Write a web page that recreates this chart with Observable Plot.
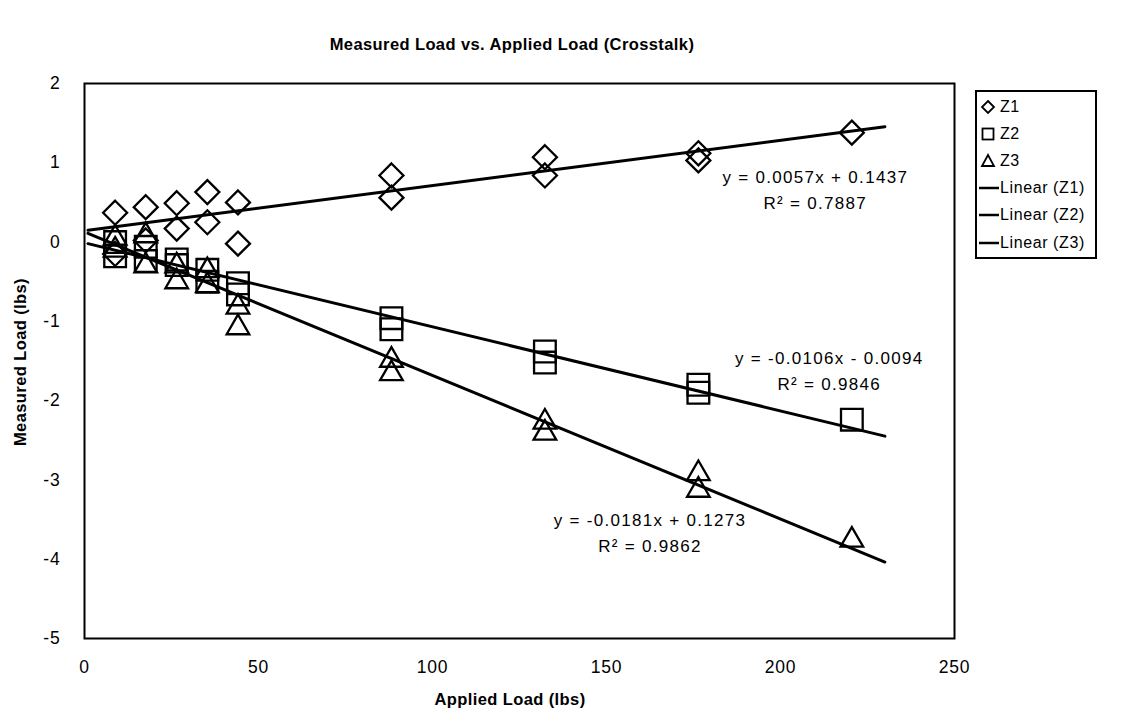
<!DOCTYPE html>
<html>
<head>
<meta charset="utf-8">
<script src="https://cdn.jsdelivr.net/npm/d3@7"></script>
<script src="https://cdn.jsdelivr.net/npm/@observablehq/plot@0.6"></script>
<style>
  html, body { margin: 0; padding: 0; background: #fff; }
  #wrap { position: relative; width: 1124px; height: 725px; font-family: "Liberation Sans", Arial, sans-serif; color: #000; }
  #title { position: absolute; left: 0; width: 1024px; top: 35px; text-align: center; font-weight: bold; font-size: 16.5px; letter-spacing: 0.4px; }
  #xtitle { position: absolute; left: 0; width: 1020px; top: 690px; text-align: center; font-weight: bold; font-size: 16.5px; letter-spacing: 0.4px; }
  #ytitle { position: absolute; left: 20px; top: 362px; transform: translate(-50%, -50%) rotate(-90deg); white-space: nowrap; font-weight: bold; font-size: 16.5px; letter-spacing: 0.4px; }
  #legend { position: absolute; left: 975px; top: 90px; width: 118px; border: 2px solid #000; padding: 1px 0 1px 0; font-size: 16px; }
  .li { display: flex; align-items: center; height: 27.2px; }
  .li svg { margin-left: 2px; margin-right: 1px; }
  #chart g[aria-label="x-axis tick label"], #chart g[aria-label="y-axis tick label"] { font-size: 17.5px; letter-spacing: 0.8px; }
  #chart g[aria-label="text"] { font-size: 17px; letter-spacing: 1.3px; }
</style>
</head>
<body>
<div id="wrap">
  <div id="title">Measured Load vs. Applied Load (Crosstalk)</div>
  <div id="ytitle">Measured Load (lbs)</div>
  <div id="xtitle">Applied Load (lbs)</div>
  <div id="chart"></div>
  <div id="legend"></div>
</div>
<script>
// ---- data ----
const appliedLoad = [8.8, 8.8, 17.6, 17.6, 26.5, 26.5, 35.3, 35.3, 44.1, 44.1, 88.2, 88.2, 132.3, 132.3, 176.4, 176.4, 220.5];
const z1 = [0.37, -0.15, 0.44, 0.02, 0.49, 0.17, 0.63, 0.25, 0.50, -0.02, 0.84, 0.56, 1.07, 0.84, 1.12, 1.03, 1.38];
const z2 = [0.00, -0.18, -0.06, -0.24, -0.22, -0.29, -0.35, -0.50, -0.52, -0.66, -0.96, -1.10, -1.38, -1.52, -1.80, -1.90, -2.24];
const z3 = [0.05, -0.10, 0.08, -0.30, -0.30, -0.50, -0.36, -0.55, -0.82, -1.08, -1.49, -1.66, -2.27, -2.41, -2.92, -3.13, -3.76];
const seriesNames = ["Z1", "Z2", "Z3"];
const slopes = [0.0057, -0.0106, -0.0181];
const intercepts = [0.1437, -0.0094, 0.1273];
const rSquared = ["0.7887", "0.9846", "0.9862"];
const equationText = ["y = 0.0057x + 0.1437", "y = -0.0106x - 0.0094", "y = -0.0181x + 0.1273"];
const trendRange = [1, 230];
const xTicks = [0, 50, 100, 150, 200, 250];
const yTicks = [2, 1, 0, -1, -2, -3, -4, -5];

// ---- build tables ----
const seriesValues = [z1, z2, z3];
const points = seriesNames.flatMap((s, i) => appliedLoad.map((x, j) => ({series: s, x, y: seriesValues[i][j]})));
const trend = seriesNames.flatMap((s, i) => trendRange.map(x => ({series: s, x, y: slopes[i] * x + intercepts[i]})));
const labelAnchor = {Z1: [210, 0.65], Z2: [214, -1.63], Z3: [162.5, -3.67]};
const labels = seriesNames.map((s, i) => ({series: s, x: labelAnchor[s][0], y: labelAnchor[s][1], eq: equationText[i], r2: "R\u00B2 = " + rSquared[i]}));

const symbols = {Z1: "diamond2", Z2: "square2", Z3: "triangle2"};
const radii = {Z1: 10.8, Z2: 13.8, Z3: 10.8};

const font = "Liberation Sans, Arial, sans-serif";
const chart = Plot.plot({
  width: 1124,
  height: 725,
  marginLeft: 84,
  marginRight: 170,
  marginTop: 83,
  marginBottom: 87,
  style: {fontFamily: font, fontSize: "17px", background: "white", color: "black"},
  x: {domain: [0, 250], ticks: xTicks},
  y: {domain: [-5, 2], ticks: yTicks},
  marks: [
    Plot.axisX({ticks: xTicks, tickSize: 0, tickPadding: 22, tickFormat: d => String(d), label: null}),
    Plot.axisY({ticks: yTicks, tickSize: 0, tickPadding: 24, tickFormat: d => String(d).replace("\u2212", "-"), label: null}),
    ...seriesNames.map(s => Plot.line(trend.filter(d => d.series === s), {x: "x", y: "y", stroke: "black", strokeWidth: 3})),
    ...seriesNames.map(s => Plot.dot(points.filter(d => d.series === s), {x: "x", y: "y", symbol: () => symbols[s], r: radii[s], stroke: "black", strokeWidth: 2.3, fill: "none"})),
    Plot.text(labels, {x: "x", y: "y", text: "eq", dy: -13, fill: "black"}),
    Plot.text(labels, {x: "x", y: "y", text: "r2", dy: 13, fill: "black"}),
    Plot.frame({stroke: "black", strokeWidth: 2})
  ]
});
document.getElementById("chart").appendChild(chart);

// ---- legend ----
const legend = document.getElementById("legend");
const sym = {
  Z1: '<polygon points="9,3 15,9 9,15 3,9" fill="none" stroke="black" stroke-width="1.8"/>',
  Z2: '<rect x="3.5" y="3.5" width="11" height="11" fill="none" stroke="black" stroke-width="1.8"/>',
  Z3: '<polygon points="9,3 15,14 3,14" fill="none" stroke="black" stroke-width="1.8"/>'
};
const legendItems = [
  ...seriesNames.map(s => ({svg: `<svg width="20" height="18">${sym[s]}</svg>`, label: s})),
  ...seriesNames.map(s => ({svg: `<svg width="20" height="18"><line x1="0" x2="20" y1="9" y2="9" stroke="black" stroke-width="2.5"/></svg>`, label: `Linear (${s})`}))
];
legend.innerHTML = legendItems.map(d => `<div class="li">${d.svg}<span style="letter-spacing:0.6px">${d.label}</span></div>`).join("");
</script>
</body>
</html>
